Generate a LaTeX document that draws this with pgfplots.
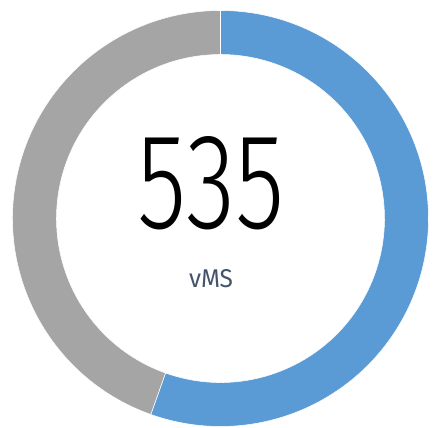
\documentclass[border=0pt]{standalone}
\usepackage{pgfplots}
\pgfplotsset{compat=1.18}
\usepackage{pgfplotstable}
\usepackage{fontspec}
\setmainfont{Liberation Sans}
\newfontfamily\numfont{Fira Sans Light}
\newfontfamily\labfont{Fira Sans}
\definecolor{ringblue}{HTML}{5B9BD5}
\definecolor{ringgray}{HTML}{A5A5A5}
\definecolor{labgray}{HTML}{44546A}

% gauge: shown value and the remainder of the ring
\pgfplotstableread{
part value
vMS 535
rest 430
}\gauge

\begin{document}
\begin{tikzpicture}
\pgfplotstablegetelem{0}{value}\of\gauge \let\va\pgfplotsretval
\pgfplotstablegetelem{1}{value}\of\gauge \let\vb\pgfplotsretval
\pgfmathsetmacro\sweep{\va/(\va+\vb)*360}
\def\R{156pt}\def\r{123pt}
\begin{axis}[
    x=0.75pt, y=0.75pt,
    xmin=0, xmax=434, ymin=0, ymax=427,
    hide axis, clip=false
]
    \coordinate (ll) at (axis cs:0,0);
    \coordinate (ur) at (axis cs:434,427);
    \fill[ringblue, draw=white, line width=0.4pt]
        ([shift={(90:\R)}]axis cs:220.5,208.5)
        arc[start angle=90, end angle={90-\sweep}, radius=\R]
        -- ([shift={({90-\sweep}:\r)}]axis cs:220.5,208.5)
        arc[start angle={90-\sweep}, end angle=90, radius=\r] -- cycle;
    \fill[ringgray, draw=white, line width=0.4pt]
        ([shift={({90-\sweep}:\R)}]axis cs:220.5,208.5)
        arc[start angle={90-\sweep}, end angle=-270, radius=\R]
        -- ([shift={(-270:\r)}]axis cs:220.5,208.5)
        arc[start angle=-270, end angle={90-\sweep}, radius=\r] -- cycle;
    \node at (axis cs:211.5,244) {\resizebox{110.25pt}{69pt}{\numfont\va}};
    \node[text=labgray] at (axis cs:211,148) {\resizebox{33pt}{13.5pt}{\labfont vMS}};
\end{axis}
\pgfresetboundingbox
\path (ll) (ur);
\end{tikzpicture}
\end{document}
